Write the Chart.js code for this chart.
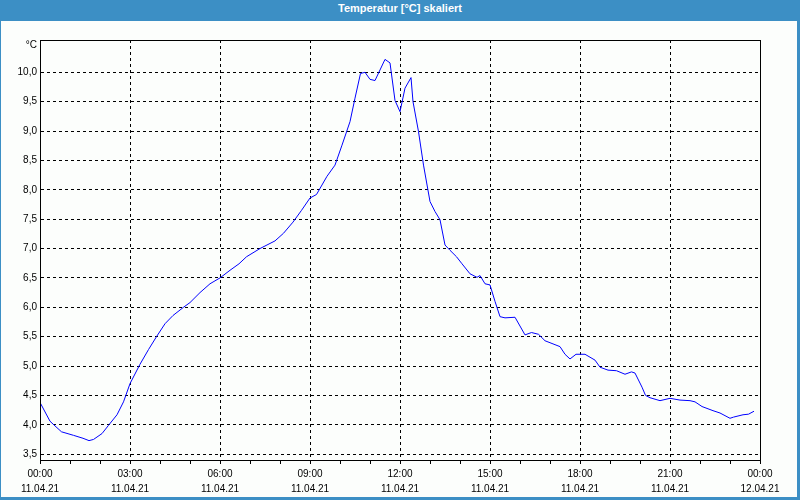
<!DOCTYPE html>
<html>
<head>
<meta charset="utf-8">
<script src="https://cdn.jsdelivr.net/npm/chart.js@4"></script>
<style>
  html, body { margin: 0; padding: 0; }
  body { width: 800px; height: 500px; background: #3c8fc5; position: relative; overflow: hidden; }
  #title { position: absolute; left: 0; top: 2px; width: 800px; height: 19px; line-height: 19px;
           text-align: center; color: #ffffff; font: bold 11px "Liberation Sans", Arial, sans-serif; }
  #panel { position: absolute; left: 1px; top: 21px; width: 796px; height: 476px; background: #fcfefc; }
  #c { position: absolute; left: 0; top: 0; }
</style>
</head>
<body>
<div id="title">Temperatur [°C] skaliert</div>
<div id="panel"></div>
<canvas id="c" width="800" height="500"></canvas>
<script>
const unitLabel = "°C";

const times = ["00:00","00:20","00:30","00:43","01:07","01:26","01:38","01:47","02:04","02:17",
  "02:34","02:47","03:00","03:20","03:37","03:53","04:10","04:26","04:47","05:00",
  "05:20","05:40","06:00","06:20","06:38","06:53","07:20","07:50","08:07","08:26",
  "08:43","09:00","09:13","09:34","09:50","10:04","10:20","10:30","10:41","10:50",
  "11:00","11:10","11:30","11:40","11:50","12:00","12:10","12:22","12:26","12:37",
  "12:47","13:00","13:10","13:20","13:30","13:40","13:53","14:04","14:20","14:34",
  "14:40","14:50","15:00","15:10","15:20","15:30","15:50","16:10","16:23","16:37",
  "16:50","17:20","17:30","17:40","17:52","18:10","18:30","18:40","18:56","19:13",
  "19:30","19:43","19:50","20:04","20:11","20:20","20:40","21:00","21:20","21:40",
  "21:50","22:04","22:26","22:40","23:00","23:07","23:26","23:37","23:48"];

const temps = [4.38,4.06,3.98,3.88,3.82,3.77,3.73,3.75,3.85,3.99,
  4.17,4.39,4.70,5.03,5.28,5.50,5.72,5.86,6.00,6.08,
  6.25,6.40,6.50,6.63,6.74,6.86,7.00,7.13,7.26,7.45,
  7.65,7.86,7.92,8.23,8.42,8.76,9.16,9.56,9.98,10.00,
  9.88,9.86,10.22,10.16,9.52,9.33,9.73,9.91,9.50,8.99,
  8.42,7.80,7.63,7.49,7.06,6.97,6.86,6.74,6.57,6.51,
  6.54,6.40,6.38,6.10,5.84,5.82,5.83,5.53,5.57,5.54,
  5.43,5.33,5.20,5.12,5.20,5.20,5.10,4.98,4.93,4.92,
  4.86,4.90,4.88,4.64,4.50,4.46,4.41,4.45,4.42,4.41,
  4.39,4.31,4.24,4.20,4.11,4.13,4.17,4.18,4.23];

const xTickTimes = ["00:00","03:00","06:00","09:00","12:00","15:00","18:00","21:00","00:00"];
const xTickDates = ["11.04.21","11.04.21","11.04.21","11.04.21","11.04.21","11.04.21","11.04.21","11.04.21","12.04.21"];
const yTickValues = [3.5,4.0,4.5,5.0,5.5,6.0,6.5,7.0,7.5,8.0,8.5,9.0,9.5,10.0];

const toMin = s => { const p = s.split(':').map(Number); return p[0] * 60 + p[1]; };
const points = times.map((t, i) => ({ x: toMin(t), y: temps[i] }));

const FONT = { family: '"Liberation Sans", Arial, sans-serif', size: 10, lineHeight: '15px' };

const framePlugin = {
  id: 'frame',
  afterDraw(chart) {
    const { ctx, chartArea: a } = chart;
    ctx.save();
    ctx.strokeStyle = '#000';
    ctx.lineWidth = 1;
    ctx.setLineDash([]);
    ctx.strokeRect(Math.round(a.left) + 0.5, Math.round(a.top) + 0.5,
                   Math.round(a.right - a.left), Math.round(a.bottom - a.top));
    ctx.fillStyle = '#000';
    ctx.font = '10px "Liberation Sans", Arial, sans-serif';
    ctx.textAlign = 'right';
    ctx.textBaseline = 'middle';
    ctx.fillText(unitLabel, a.left - 3, a.top + 5);
    ctx.restore();
  }
};

new Chart(document.getElementById('c'), {
  type: 'line',
  data: {
    datasets: [{
      data: points,
      borderColor: '#0000ff',
      borderWidth: 1,
      pointRadius: 0,
      tension: 0,
      fill: false
    }]
  },
  options: {
    responsive: false,
    animation: false,
    devicePixelRatio: 1,
    layout: { padding: { top: 40, right: 40, left: 0, bottom: 0 } },
    plugins: { legend: { display: false }, tooltip: { enabled: false }, title: { display: false } },
    scales: {
      x: {
        type: 'linear',
        min: 0,
        max: 1440,
        afterFit(s) { s.height = 40; },
        afterBuildTicks(s) {
          const t = [];
          for (let v = 0; v <= 1440; v += 60) t.push({ value: v });
          s.ticks = t;
        },
        ticks: {
          autoSkip: false,
          maxRotation: 0,
          minRotation: 0,
          padding: 3,
          color: '#000',
          font: FONT,
          callback: (v) => (v % 180 === 0) ? [xTickTimes[v / 180], xTickDates[v / 180]] : ''
        },
        grid: {
          color: (c) => (c.tick && c.tick.value % 180 === 0) ? '#000' : 'rgba(0,0,0,0)',
          tickColor: '#000',
          tickLength: 4,
          lineWidth: 1
        },
        border: { display: true, color: '#000', width: 1, dash: [3, 3] }
      },
      y: {
        type: 'linear',
        min: 3.4,
        max: 10.55,
        afterFit(s) { s.width = 40; },
        afterBuildTicks(s) { s.ticks = yTickValues.map(v => ({ value: v })); },
        ticks: {
          autoSkip: false,
          padding: 3,
          color: '#000',
          font: FONT,
          callback: (v) => Number(v).toFixed(1).replace('.', ',')
        },
        grid: {
          color: '#000',
          drawTicks: false,
          lineWidth: 1
        },
        border: { display: true, color: '#000', width: 1, dash: [3, 3] }
      }
    }
  },
  plugins: [framePlugin]
});
</script>
</body>
</html>
